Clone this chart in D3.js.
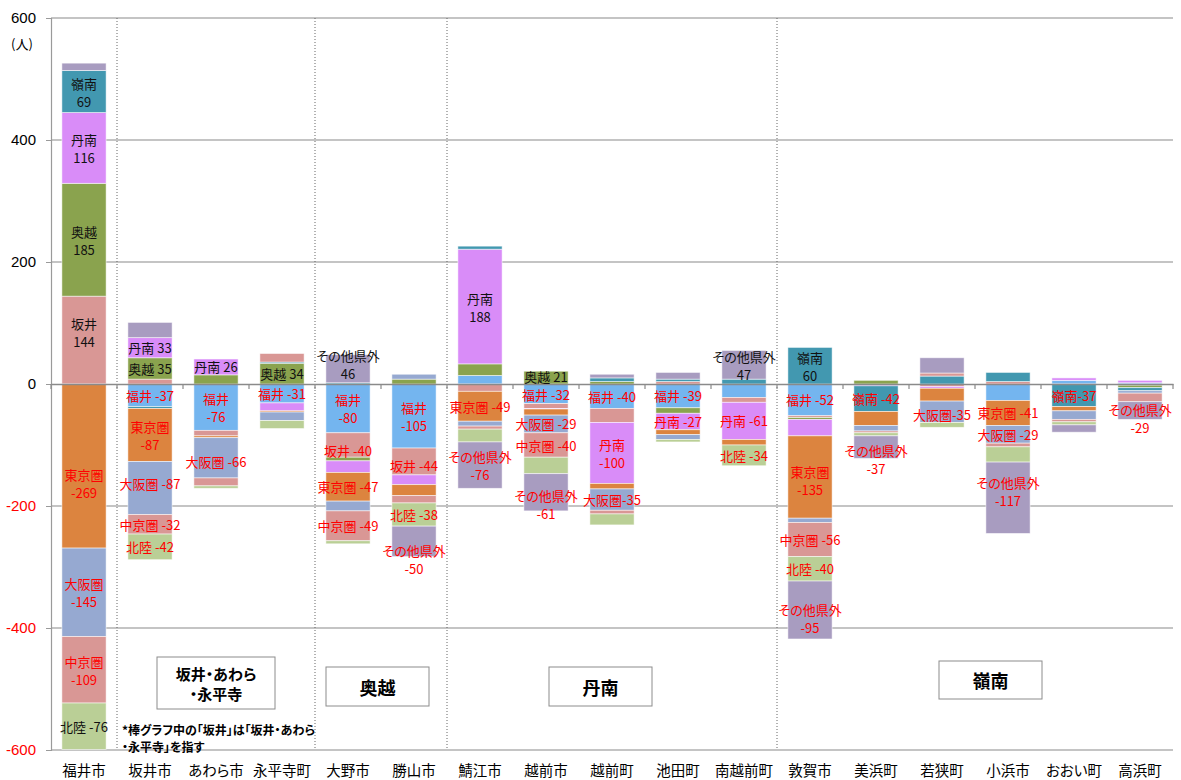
<!DOCTYPE html>
<html><head><meta charset="utf-8">
<script src="https://cdn.jsdelivr.net/npm/d3@7"></script>
<style>
body{margin:0;background:#fff;}
text{font-family:"Noto Sans CJK JP","Noto Sans",sans-serif;font-feature-settings:"palt";}
</style></head><body>
<svg id="c" width="1181" height="780"></svg>
<script>
// ---------- data ----------
const categories = ['福井市','坂井市','あわら市','永平寺町','大野市','勝山市','鯖江市','越前市','越前町','池田町','南越前町','敦賀市','美浜町','若狭町','小浜市','おおい町','高浜町'];
const seriesNames = ['福井','坂井','奥越','丹南','嶺南','東京圏','大阪圏','中京圏','北陸','その他県外'];
const vFukui   = [0, -37, -76, -31, -80, -105, 14, -32, -40, -39, -22, -52, 0, 0, -27, 6, 2];
const vSakai   = [144, 8, -9, 0, -40, -44, -12, -8, -23, 4, -8, -3, -1, -4, 4, 0, -2];
const vOkuetsu = [185, 35, 15, 34, -6, 8, 19, 21, 4, -9, 0, -3, 6, 0, 0, 0, -4];
const vTannan  = [116, 33, 26, -13, -19, -16, 188, -1, -100, -27, -61, -27, -2, -3, 0, 4, 4];
const vReinan  = [69, -3, 0, 2, 2, 0, 5, 0, 6, 4, 8, 60, -42, 13, 15, -37, -5];
const vTokyo   = [-269, -87, -3, -2, -47, -18, -49, -10, -9, -8, -9, -135, -23, -21, -41, -7, 0];
const vOsaka   = [-145, -87, -66, -14, -16, 8, -8, -29, -35, -8, 0, -7, -9, -35, -29, -14, -4];
const vChukyo  = [-109, -32, -13, 14, -49, -12, -5, -40, -6, 0, 0, -56, -3, 5, -6, -4, -14];
const vHokuriku= [-76, -42, -4, -13, -5, -38, -21, -27, -18, -4, -34, -40, -5, -8, -25, -5, 0];
const vOther   = [12, 25, 0, 0, 46, -50, -76, -61, 6, 11, 47, -95, -37, 25, -117, -12, -29];
const seriesValues = [vFukui, vSakai, vOkuetsu, vTannan, vReinan, vTokyo, vOsaka, vChukyo, vHokuriku, vOther];
const yTicks = [600, 400, 200, 0, -200, -400, -600];
// labelled segments: [category, series, form]  form 2 = two lines, 1 = "name value", 0 = "namevalue"
const labelSpecs = [
 ['福井市','嶺南',2],['福井市','丹南',2],['福井市','奥越',2],['福井市','坂井',2],['福井市','東京圏',2],['福井市','大阪圏',2],['福井市','中京圏',2],['福井市','北陸',1],
 ['坂井市','丹南',1],['坂井市','奥越',1],['坂井市','福井',1],['坂井市','東京圏',2],['坂井市','大阪圏',1],['坂井市','中京圏',1],['坂井市','北陸',1],
 ['あわら市','丹南',1],['あわら市','福井',2],['あわら市','大阪圏',1],
 ['永平寺町','奥越',1],['永平寺町','福井',1],
 ['大野市','その他県外',2],['大野市','福井',2],['大野市','坂井',1],['大野市','東京圏',1],['大野市','中京圏',1],
 ['勝山市','福井',2],['勝山市','坂井',1],['勝山市','北陸',1],['勝山市','その他県外',2],
 ['鯖江市','丹南',2],['鯖江市','東京圏',1],['鯖江市','その他県外',2],
 ['越前市','奥越',1],['越前市','福井',1],['越前市','大阪圏',1],['越前市','中京圏',1],['越前市','その他県外',2],
 ['越前町','福井',1],['越前町','丹南',2],['越前町','大阪圏',0],
 ['池田町','福井',1],['池田町','丹南',1],
 ['南越前町','その他県外',2],['南越前町','丹南',1],['南越前町','北陸',1],
 ['敦賀市','嶺南',2],['敦賀市','福井',1],['敦賀市','東京圏',2],['敦賀市','中京圏',1],['敦賀市','北陸',1],['敦賀市','その他県外',2],
 ['美浜町','嶺南',1],['美浜町','その他県外',2],
 ['若狭町','大阪圏',0],
 ['小浜市','東京圏',1],['小浜市','大阪圏',1],['小浜市','その他県外',2],
 ['おおい町','嶺南',0],
 ['高浜町','その他県外',2]
];
const blackNegLabels = [['福井市','北陸']];
const regionBoxes = [['坂井・あわら','・永平寺'],['奥越'],['丹南'],['嶺南']];
const noteLines = ['*棒グラフ中の「坂井」は「坂井・あわら','・永平寺」を指す'];
const unitLabel = '(人)';

// ---------- styles / layout ----------
const colors = ['#74b5ef','#d99795','#8aa34e','#d98cf8','#4298b0','#dc843f','#96a9d1','#d99795','#bacf96','#a89cc0'];
const L = 51, R = 1173, T = 18, B = 750;
const svg = d3.select('#c');

const x = d3.scaleBand().domain(categories).range([L, R]).paddingInner(0.33).paddingOuter(0.165);
const y = d3.scaleLinear().domain([-600, 600]).range([B, T]);
const color = d3.scaleOrdinal().domain(seriesNames).range(colors);

const rows = categories.map((c, i) => {
  const r = {cat: c};
  seriesNames.forEach((s, k) => r[s] = seriesValues[k][i]);
  return r;
});
const stacked = d3.stack().keys(seriesNames).offset(d3.stackOffsetDiverging)(rows);

// gridlines
svg.append('g').selectAll('line').data(yTicks.filter(t => t !== 0)).join('line')
  .attr('x1', L).attr('x2', R).attr('y1', d => y(d)).attr('y2', d => y(d))
  .attr('stroke', '#b0b0b0').attr('stroke-width', 1.5);

// left axis
const yAxis = d3.axisLeft(y).tickValues(yTicks).tickSize(5).tickFormat(d => d);
const ga = svg.append('g').attr('transform', `translate(${L},0)`).call(yAxis);
ga.select('.domain').attr('stroke', '#9a9a9a').attr('stroke-width', 1.2);
ga.selectAll('.tick line').attr('stroke', '#9a9a9a');
ga.selectAll('.tick text').attr('x', -15).attr('font-size', 15)
  .style('font-family', '"Liberation Sans",Arial,sans-serif')
  .attr('fill', d => d < 0 ? '#ff0000' : '#000');
svg.append('text').attr('x', 22).attr('y', 43).attr('text-anchor', 'middle')
  .attr('dominant-baseline', 'central').attr('font-size', 13).text(unitLabel);

// dotted region separators
const sepAfter = ['福井市','永平寺町','勝山市','南越前町'];
svg.append('g').selectAll('line').data(sepAfter).join('line')
  .attr('x1', d => x(d) + x.bandwidth() + x.step() * x.paddingInner() / 2)
  .attr('x2', d => x(d) + x.bandwidth() + x.step() * x.paddingInner() / 2)
  .attr('y1', T).attr('y2', B)
  .attr('stroke', '#666').attr('stroke-width', 1).attr('stroke-dasharray', '1,2');

// bars
svg.append('g').selectAll('g').data(stacked).join('g')
  .attr('fill', d => color(d.key))
  .selectAll('rect').data(d => d).join('rect')
  .attr('x', d => x(d.data.cat))
  .attr('width', x.bandwidth())
  .attr('y', d => y(Math.max(d[0], d[1])))
  .attr('height', d => Math.abs(y(d[0]) - y(d[1])))
  .attr('stroke', '#ffffff').attr('stroke-opacity', 0.65).attr('stroke-width', 0.8);

// zero axis with boundary ticks
const xAxis = d3.axisBottom(x).tickSize(0).tickFormat('');
const gz = svg.append('g').attr('transform', `translate(0,${y(0)})`).call(xAxis);
gz.select('.domain').attr('stroke', '#8a8a8a').attr('stroke-width', 1.5);
gz.selectAll('.tick').remove();
const bounds = d3.range(categories.length + 1).map(i => L + i * x.step());
gz.selectAll('line.bt').data(bounds).join('line').attr('class', 'bt')
  .attr('x1', d => d).attr('x2', d => d).attr('y1', 0).attr('y2', 5)
  .attr('stroke', '#8a8a8a').attr('stroke-width', 1.2);

// category labels
svg.append('g').selectAll('text').data(categories).join('text')
  .attr('x', d => x(d) + x.bandwidth() / 2).attr('y', 769)
  .attr('text-anchor', 'middle').attr('dominant-baseline', 'central')
  .attr('font-size', 14.5).attr('fill', '#000').text(d => d);

// data labels
const nudges = {
  '福井市|坂井': -8, '福井市|東京圏': 17, '坂井市|大阪圏': -5, '大野市|坂井': 5, '大野市|その他県外': -5,
  '勝山市|その他県外': 18, '越前市|その他県外': 12, '美浜町|その他県外': 12, '高浜町|その他県外': 7,
  '敦賀市|その他県外': 8, '小浜市|その他県外': -7, '敦賀市|東京圏': 3, '若狭町|大阪圏': 3, 'あわら市|大阪圏': 4, '勝山市|坂井': 4,
  '越前市|奥越': -1, '越前市|福井': 1
};
const gl = svg.append('g');
labelSpecs.forEach(([cat, ser, form]) => {
  const layer = stacked.find(l => l.key === ser);
  const idx = categories.indexOf(cat);
  const seg = layer[idx];
  const val = seriesValues[seriesNames.indexOf(ser)][idx];
  const cx = x(cat) + x.bandwidth() / 2;
  const cy = (y(seg[0]) + y(seg[1])) / 2 + (nudges[cat + '|' + ser] || 0);
  const black = val >= 0 || blackNegLabels.some(b => b[0] === cat && b[1] === ser);
  const fill = black ? '#111' : '#ff0000';
  const t = gl.append('text').attr('x', cx).attr('text-anchor', 'middle')
    .attr('dominant-baseline', 'central').attr('font-size', 13).attr('fill', fill);
  if (form === 2) {
    t.append('tspan').attr('x', cx).attr('y', cy - 9).text(ser);
    t.append('tspan').attr('x', cx).attr('y', cy + 9).text(val);
  } else {
    t.attr('y', cy).text(form === 1 ? ser + ' ' + val : ser + val);
  }
});

// region boxes
const boxGeo = [[157, 657, 118, 52, 15], [326, 667, 103, 39, 18], [549, 667, 103, 39, 18], [939, 661, 103, 38, 18]];
regionBoxes.forEach((lines, i) => {
  const [bx, by, bw, bh, fs] = boxGeo[i];
  svg.append('rect').attr('x', bx).attr('y', by).attr('width', bw).attr('height', bh)
    .attr('fill', '#fff').attr('stroke', '#8c8c8c').attr('stroke-width', 1);
  const cx = bx + bw / 2, cy = by + bh / 2;
  lines.forEach((ln, j) => {
    svg.append('text').attr('x', cx).attr('y', cy + (j - (lines.length - 1) / 2) * 20)
      .attr('text-anchor', 'middle').attr('dominant-baseline', 'central')
      .attr('font-size', fs).attr('font-weight', 'bold').attr('fill', '#000').text(ln);
  });
});

// note
noteLines.forEach((ln, j) => {
  svg.append('text').attr('x', 122).attr('y', 729 + j * 17).attr('dominant-baseline', 'central')
    .attr('font-size', 12).attr('font-weight', 'bold').attr('fill', '#000').text(ln);
});
</script>
</body></html>
